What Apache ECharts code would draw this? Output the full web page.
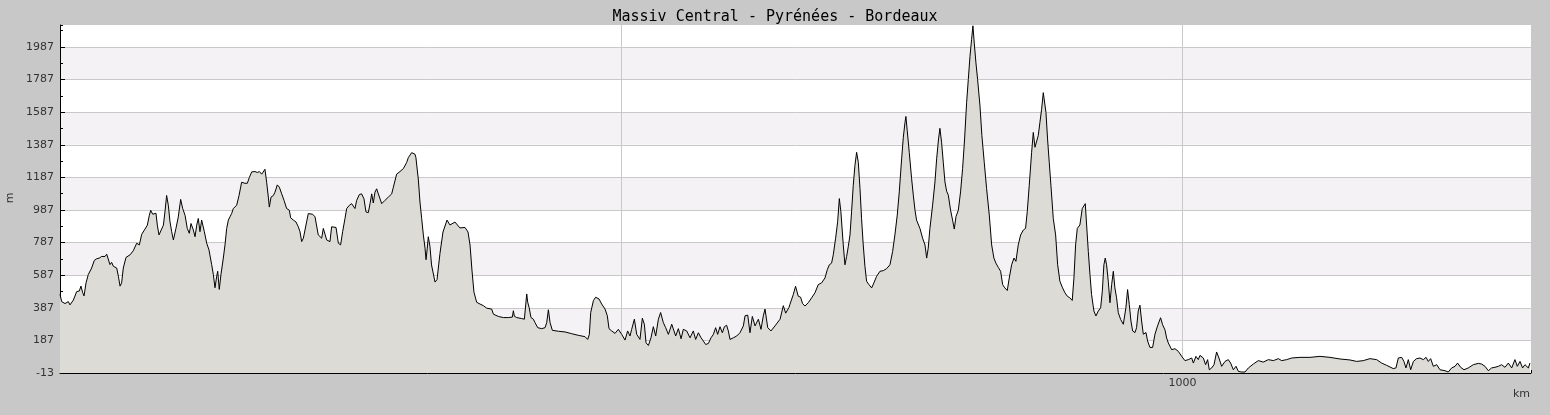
<!DOCTYPE html>
<html>
<head>
<meta charset="utf-8">
<script src="https://cdn.jsdelivr.net/npm/echarts@6/dist/echarts.min.js"></script>
<style>
html,body{margin:0;padding:0;background:#c8c8c8;}
#chart{width:1550px;height:415px;}
</style>
</head>
<body>
<div id="chart"></div>
<script>
// ---- data (distance km, elevation m) ----
const title = 'Massiv Central - Pyrénées - Bordeaux';
const kmMax = 1310.5;
const yMinLabel = -13;     // lowest tick label
const yStep = 200;
const yTop = 2122;
const xLabelShown = [1000];

const km = [
0,1.5,4.5,7.4,8.9,11.9,13.4,14.8,17.2,18.7,20.2,21.4,23.2,25.2,28.2,30.6,32.7,35.0,37.1,40.1,41.6,43.1,44.5,46.0,47.5,50.5,52.0,53.5,54.9,56.4,58.8,62.4,65.3,68.3,70.7,72.8,75.7,77.8,79.6,80.8,82.6,85.5,86.7,88.2,89.7,92.1,93.5,95.0,96.5,98.0,99.5,101.0,103.3,105.4,107.5,109.3,111.4,113.4,115.2,116.7,118.8,120.3,121.8,123.2,124.7,126.2,127.7,128.6,130.7,132.7,135.1,136.6,138.1,139.6,140.5,141.9,143.4,145.5,147.0,148.5,150.0,151.4,152.9,154.4,155.9,157.4,159.5,161.8,163.3,164.8,166.9,168.7,170.8,173.7,175.8,177.6,179.7,181.1,182.6,184.1,185.6,186.5,188.0,190.1,191.5,193.6,195.4,197.5,199.6,201.9,204.3,205.5,207.9,210.2,212.3,213.8,215.3,216.8,218.3,219.7,221.2,222.7,225.1,227.2,228.7,230.1,231.6,233.1,234.6,236.1,237.6,239.1,240.5,242.0,243.5,245.9,248.0,250.0,251.8,253.9,255.4,257.8,259.8,261.3,262.8,264.3,266.7,268.7,270.8,272.6,274.7,276.2,277.7,279.1,280.6,282.1,283.6,286.6,289.5,292.5,294.0,295.5,297.0,299.9,302.9,305.9,308.8,310.3,311.8,313.3,314.8,316.3,317.1,319.2,320.7,322.2,323.7,325.2,326.1,327.2,328.1,329.6,
331.0,334.1,335.9,338.5,341.2,344.8,347.4,351.9,356.3,360.8,363.5,365.3,367.0,368.8,
371.2,374.2,377.2,380.1,384.6,386.1,390.5,395.0,399.4,403.0,403.9,404.8,406.9,411.3,413.7,415.8,416.7,417.9,419.6,421.7,423.2,425.6,429.1,432.1,433.6,435.1,436.6,438.6,444.0,449.9,455.9,461.8,467.7,470.1,471.6,472.8,475.2,477.2,478.7,480.2,482.6,485.6,487.6,489.1,491.5,494.5,497.4,498.9,500.4,503.4,505.7,507.8,509.3,511.7,513.8,515.3,516.7,518.8,520.6,522.1,524.2,526.5,528.6,530.7,533.1,535.1,537.5,539.6,542.0,545.0,546.4,548.5,550.9,553.3,555.3,558.3,561.3,564.2,566.3,568.7,571.1,573.2,575.2,577.6,580.0,582.1,584.1,585.9,588.0,590.1,591.9,593.9,595.4,596.9,599.9,602.9,605.8,608.8,610.3,612.7,614.7,616.8,619.2,622.2,624.5,626.6,628.1,630.5,633.4,637.0,641.5,644.4,646.5,649.5,
650.3,653.3,655.3,657.7,659.8,661.6,663.7,666.6,669.6,672.6,675.5,678.5,681.5,683.6,685.4,687.4,688.9,691.0,692.8,694.3,695.7,697.8,699.3,700.8,702.3,703.8,705.2,706.7,708.2,709.7,711.2,712.7,714.1,715.6,717.1,718.6,720.7,723.1,725.1,727.5,730.5,733.5,736.4,739.4,741.8,743.8,745.9,747.7,749.8,751.3,752.8,753.6,754.8,756.6,758.7,760.2,761.7,763.1,766.1,768.5,770.6,772.1,773.5,775.0,777.4,779.5,781.0,782.7,783.9,785.4,786.9,788.4,789.9,791.4,793.4,795.2,796.7,798.2,800.3,802.3,804.1,805.9,807.7,809.2,810.7,812.1,813.3,814.5,816.0,817.5,819.6,821.3,823.4,825.5,827.9,830.0,832.0,833.8,835.9,838.0,839.8,841.8,843.9,845.7,847.8,849.9,851.6,853.7,855.8,858.2,860.2,861.7,863.5,865.6,867.1,868.6,870.1,871.5,873.0,874.5,876.0,876.9,878.4,879.8,881.3,882.8,884.9,887.0,888.8,890.8,893.2,895.3,897.4,899.7,901.8,903.3,904.8,906.3,908.6,910.7,912.2,913.4,914.6,916.1,917.6,919.0,921.1,922.9,925.0,927.1,928.6,930.0,931.2,932.4,933.9,935.4,936.9,938.4,939.8,941.3,942.8,944.9,947.3,949.6,951.1,952.6,954.1,955.6,957.7,959.1,960.6,962.1,963.6,965.1,967.5,968.9,971.0,973.4,975.5,977.8,980.5,
982.3,984.4,985.9,987.4,990.4,993.3,996.3,999.3,1002.2,1005.2,1008.2,1009.7,1012.0,1014.1,1015.6,1018.6,1020.6,1022.4,1023.9,1026.0,1028.1,1030.4,1032.5,1034.9,1037.9,1040.8,1042.9,1045.3,1047.7,1049.8,1052.7,1055.7,1058.7,1063.1,1067.6,1072.0,1076.5,1081.0,1085.4,1088.4,1092.8,1097.3,1104.7,1113.6,1122.5,1131.4,1140.3,1149.2,1155.2,1161.1,1167.0,1173.0,1177.4,1181.9,1187.8,1190.2,1192.3,1195.3,1197.3,1199.1,1201.2,1203.3,1205.7,1208.6,1211.6,1214.6,1217.0,1219.0,1221.1,1223.5,1226.5,1229.4,1233.9,1236.8,1239.8,1242.8,1245.1,1247.8,1250.8,1254.6,1259.1,1263.6,1266.5,1269.5,1272.5,1275.4,1278.4,1281.4,1284.3,1287.3,1290.3,1293.3,1296.2,1298.3,1300.7,1303.0,1305.1,1306.6,1308.1,1309.6
];

const elev = [
470,425,413,425,405,434,440,486,490,520,480,460,540,591,631,678,688,692,702,702,716,722,652,666,642,631,581,520,540,631,696,712,737,783,773,838,870,894,955,985,961,967,894,834,823,894,975,1076,1016,914,854,803,874,945,1052,996,955,874,844,904,864,823,894,935,854,925,935,854,783,743,652,591,510,581,611,500,591,692,773,874,925,945,965,996,986,1016,1076,1157,1167,1151,1151,1187,1221,1223,1217,1223,1207,1217,1237,1157,1066,1005,1066,1076,1096,1141,1127,1086,1046,996,986,939,925,914,884,854,793,814,823,914,965,955,961,945,951,834,823,814,874,884,803,793,793,884,888,880,783,773,854,935,996,1016,1026,1036,996,1046,1082,1086,1056,975,971,1026,1086,1030,1096,1117,1086,1026,1046,1066,1070,1086,1127,1207,1223,1241,1278,1308,1318,1339,1345,1329,1308,1177,1036,935,834,753,682,753,823,763,
650,545,560,720,852,925,895,913,877,880,852,772,619,483,
421,410,400,385,379,348,334,327,327,330,369,335,327,321,317,472,421,390,327,317,296,265,259,265,296,375,296,249,243,239,228,218,210,193,224,358,431,452,462,441,410,379,338,259,245,230,255,265,224,189,245,214,255,317,224,214,193,323,286,172,156,203,271,214,317,358,296,265,224,286,296,214,259,197,255,245,203,245,193,234,203,183,162,168,203,224,265,224,271,234,271,280,245,193,203,214,234,276,338,342,234,334,276,317,255,338,379,265,245,276,317,400,354,390,
408,469,519,458,452,412,398,418,448,479,529,540,570,621,651,661,712,814,915,1057,976,773,651,702,763,834,976,1138,1260,1341,1280,1118,935,773,641,550,529,509,540,580,611,615,627,651,733,834,956,1098,1301,1433,1524,1561,1473,1341,1179,1078,986,925,874,814,773,692,753,874,1017,1159,1301,1423,1488,1402,1280,1159,1102,1078,986,925,870,946,986,1098,1240,1423,1646,1788,1930,2032,2117,2011,1890,1788,1626,1443,1280,1118,956,773,692,661,635,611,529,509,493,570,651,692,672,773,834,864,874,976,1138,1341,1463,1372,1362,1443,1524,1605,1707,1711,1585,1423,1280,1138,935,834,651,550,509,479,458,448,432,570,773,874,895,996,1006,1026,895,733,590,469,367,337,367,387,489,651,692,651,550,418,529,611,509,448,357,316,286,387,499,408,306,245,235,265,367,403,306,225,235,184,144,144,225,276,326,
283,252,201,171,130,136,120,89,63,69,79,48,89,69,95,79,38,69,7,18,38,116,79,28,58,69,48,7,28,-3,-7,-7,18,42,63,54,69,63,75,63,69,79,83,83,89,83,73,67,58,63,75,69,48,34,14,18,79,83,58,18,69,7,58,75,79,69,83,58,75,28,38,7,1,-7,18,28,48,22,7,18,38,46,42,28,1,18,22,28,38,22,48,18,69,28,58,18,38,48,18,48
];

// axis baseline offset so ticks fall on -13, 187, 387 ...
const base = yMinLabel;
const seriesData = km.map((k, i) => [k, elev[i] - base]);

const axisColor = '#000';
const gridColor = '#c9c9c9';
const labelStyle = { color: '#333', fontSize: 11, fontFamily: 'DejaVu Sans' };

const chart = echarts.init(document.getElementById('chart'), null, { renderer: 'canvas' });
chart.setOption({
  backgroundColor: '#c8c8c8',
  animation: false,
  title: {
    text: title, left: 'center', top: 5,
    textStyle: { fontFamily: 'DejaVu Sans Mono', fontSize: 15, fontWeight: 'normal', color: '#000' }
  },
  grid: { left: 60, right: 19, top: 25, bottom: 42, show: true, backgroundColor: '#fff', borderWidth: 0 },
  xAxis: [{
    type: 'value', min: 0, max: kmMax, interval: 500, position: 'bottom',
    axisLine: { show: true, onZero: false, lineStyle: { color: axisColor, width: 1 } },
    axisTick: { show: true, inside: true, length: 5, lineStyle: { color: axisColor } },
    axisLabel: Object.assign({ margin: 5, showMaxLabel: false, showMinLabel: false,
      formatter: v => xLabelShown.indexOf(v) >= 0 ? String(v) : '' }, labelStyle),
    splitLine: { show: true, showMinLine: false, showMaxLine: false, lineStyle: { color: gridColor, width: 1 } }
  }, {
    type: 'value', min: 0, max: kmMax, interval: 100, position: 'bottom',
    axisLine: { show: false },
    axisTick: { show: true, inside: true, length: 3, lineStyle: { color: axisColor } },
    axisLabel: { show: false },
    splitLine: { show: false }
  }],
  yAxis: [{
    type: 'value', min: 0, max: yTop - base, interval: yStep, position: 'left',
    axisLine: { show: true, onZero: false, lineStyle: { color: axisColor, width: 1 } },
    axisTick: { show: true, inside: true, length: 5, lineStyle: { color: axisColor } },
    axisLabel: Object.assign({ margin: 6, showMaxLabel: false, formatter: v => String(v + base) }, labelStyle),
    splitLine: { show: true, showMinLine: false, showMaxLine: false, lineStyle: { color: gridColor, width: 1 } },
    splitArea: { show: true, areaStyle: { color: ['#ffffff', '#f4f2f5'] } }
  }, {
    type: 'value', min: 0, max: yTop - base, interval: yStep / 2, position: 'left',
    axisLine: { show: false },
    axisTick: { show: true, inside: true, length: 3, lineStyle: { color: axisColor } },
    axisLabel: { show: false },
    splitLine: { show: false }
  }],
  graphic: [
    { type: 'text', x: 10, y: 198, rotation: Math.PI / 2,
      style: { text: 'm', fill: '#333', font: '11px "DejaVu Sans"', align: 'center', verticalAlign: 'middle' } },
    { type: 'text', x: 1530, y: 394,
      style: { text: 'km', fill: '#333', font: '11px "DejaVu Sans"', align: 'right', verticalAlign: 'middle' } }
  ],
  series: [{
    type: 'line', xAxisIndex: 0, yAxisIndex: 0,
    data: seriesData, showSymbol: false, symbol: 'none', smooth: false,
    lineStyle: { color: '#000', width: 1 },
    areaStyle: { color: '#dcdbd6', opacity: 1 },
    emphasis: { disabled: true }
  }]
});
</script>
</body>
</html>
